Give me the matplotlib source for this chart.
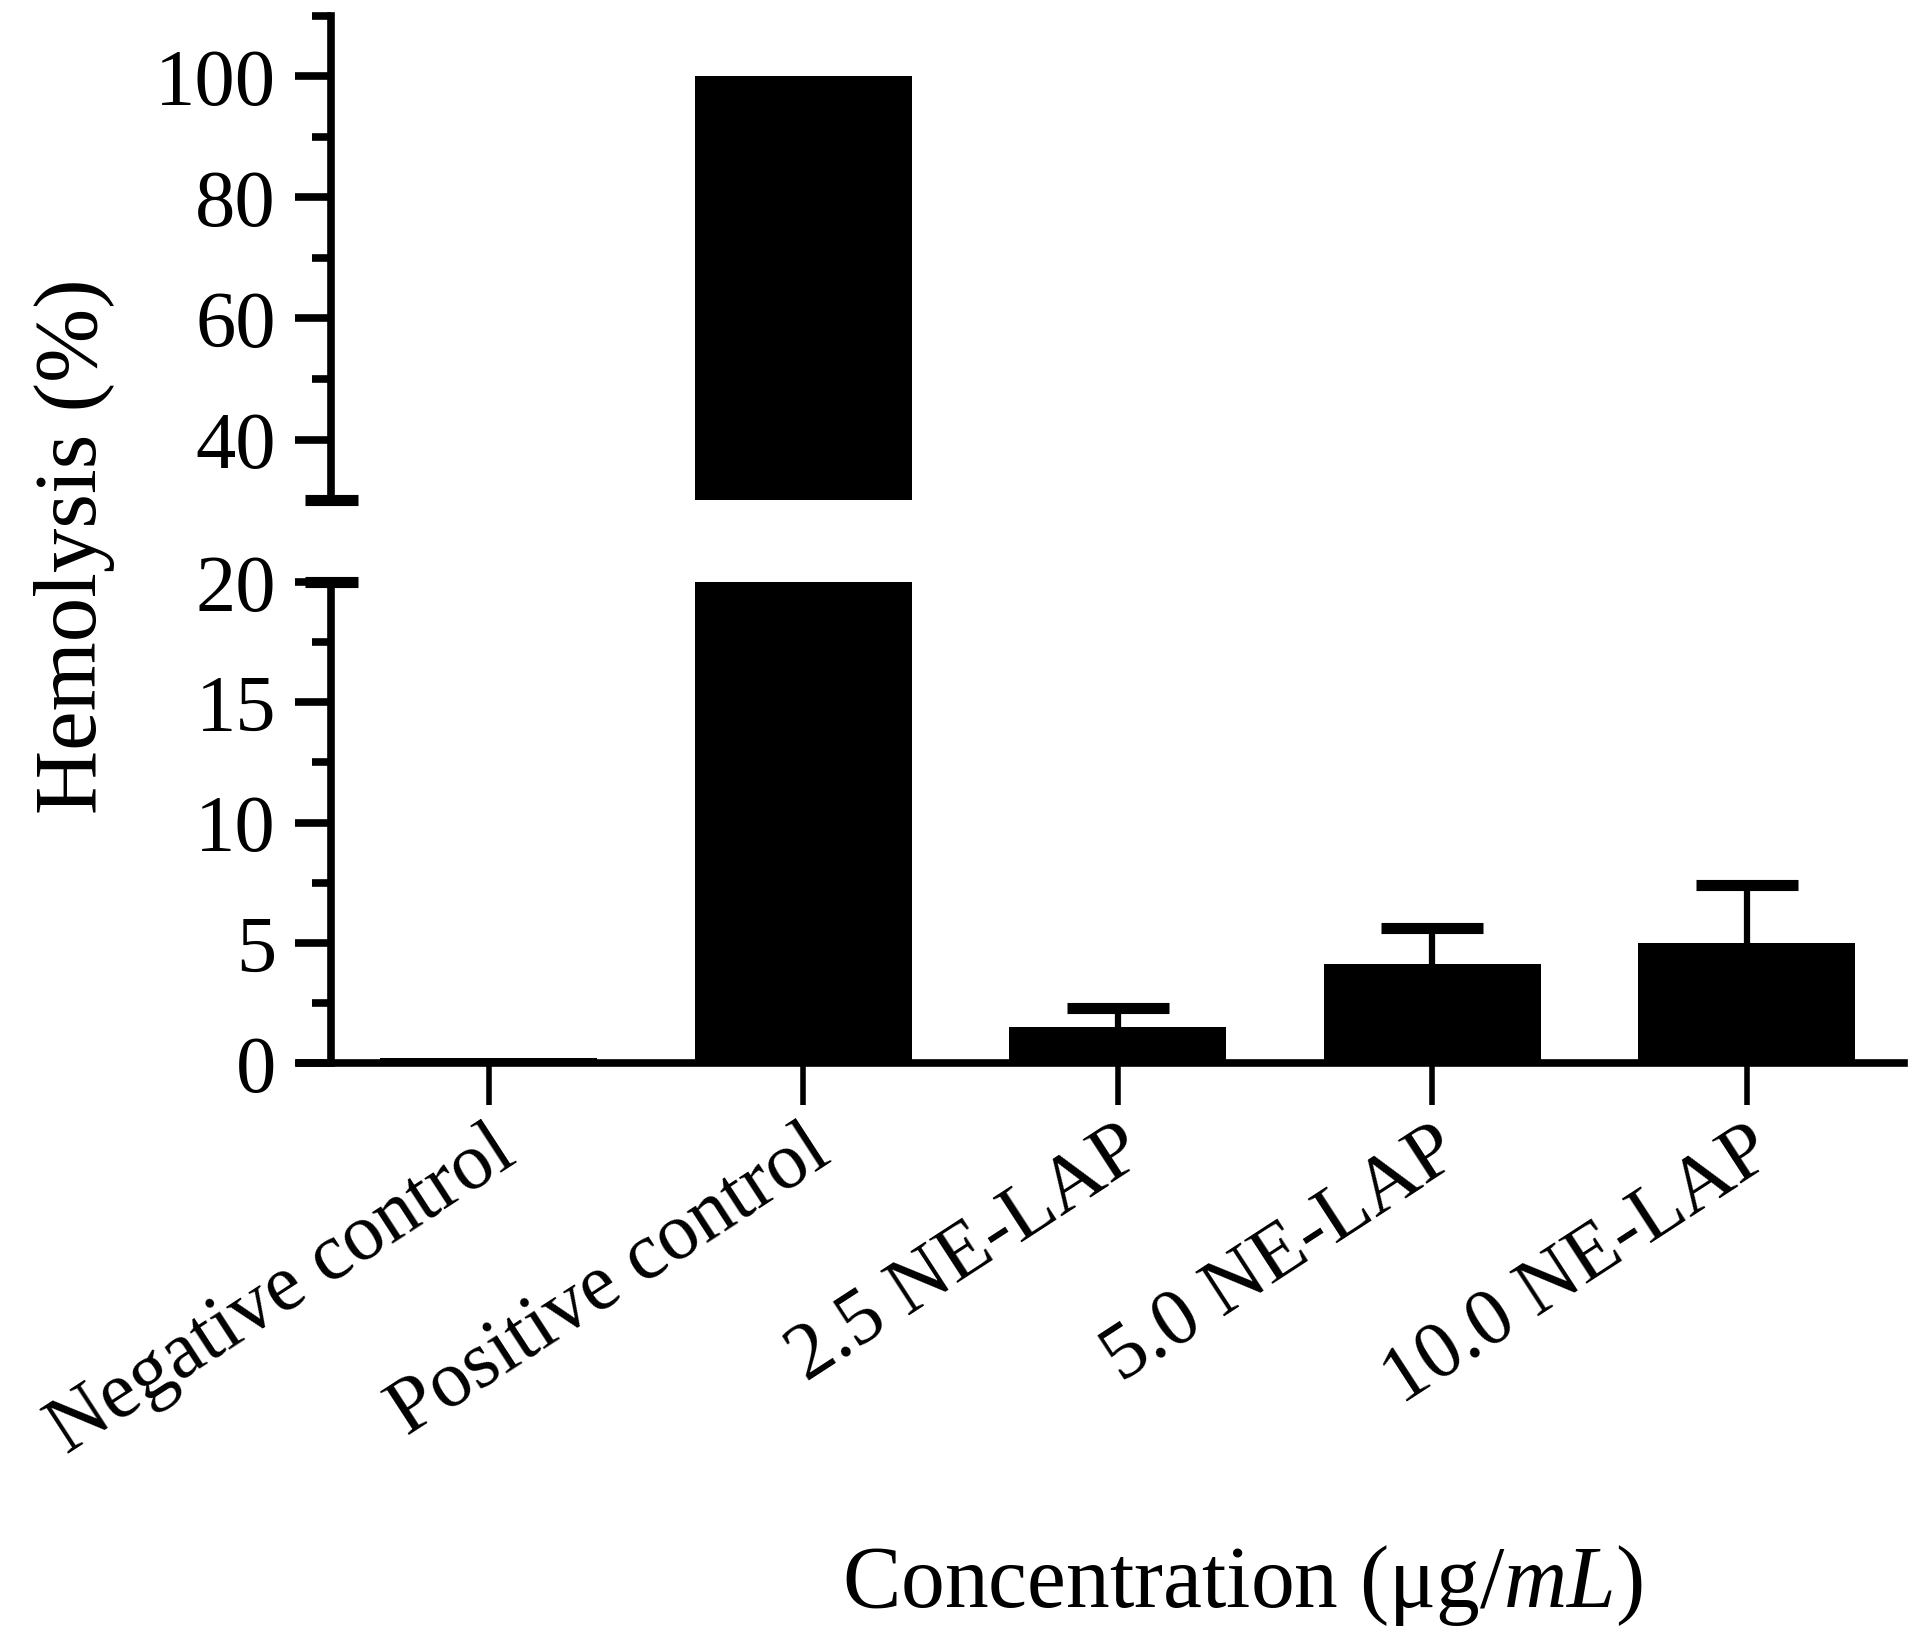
import matplotlib
matplotlib.use("Agg")
import matplotlib.pyplot as plt
import numpy as np

categories = ["Negative control", "Positive control", "2.5 NE-LAP", "5.0 NE-LAP", "10.0 NE-LAP"]
hemolysis = [0.2, 100.0, 1.5, 4.1, 5.0]
sd_upper = [0.0, 0.0, 0.8, 1.5, 2.4]
upper_ticks = [40, 60, 80, 100]
lower_ticks = [0, 5, 10, 15, 20]

plt.rcParams['font.family'] = ['Liberation Serif', 'DejaVu Serif']
plt.rcParams['mathtext.fontset'] = 'custom'
plt.rcParams['mathtext.rm'] = 'Liberation Serif'
plt.rcParams['mathtext.it'] = 'Liberation Serif:italic'

FS = 58
LW = 5.5

fig = plt.figure(figsize=(19.2, 16.4), dpi=100)
L, R = 300/1920, 1904/1920
ax_top = fig.add_axes([L, 1-501/1640, R-L, (501-17)/1640])
ax_bot = fig.add_axes([L, 1-1064/1640, R-L, (1064-583)/1640])

x = np.arange(len(categories))
width = 0.69

for ax in (ax_top, ax_bot):
    ax.bar(x, hemolysis, width=width, color='black', zorder=3)
    ax.set_xlim(-0.6, 4.5)
    ax.spines['left'].set_position(('data', -0.5))
    ax.spines['left'].set_linewidth(LW)
    ax.spines['top'].set_visible(False)
    ax.spines['right'].set_visible(False)
    ax.tick_params(axis='y', which='major', length=26, width=LW, labelsize=FS, pad=14)
    ax.tick_params(axis='y', which='minor', length=14, width=LW)

# error bars (upper only)
err_idx = [i for i, e in enumerate(sd_upper) if e > 0]
xe = x[err_idx]
ye = np.array(hemolysis)[err_idx]
ee = np.array(sd_upper)[err_idx]
eb = ax_bot.errorbar(xe, ye, yerr=[np.zeros_like(ee), ee], fmt='none', ecolor='black',
                     elinewidth=4.5, capsize=37, capthick=8, zorder=2)
eb[1][0].set_visible(False)

# upper axis
ax_top.set_ylim(30, 110)
ax_top.spines['bottom'].set_visible(False)
ax_top.set_xticks([])
ax_top.set_yticks(upper_ticks)
ax_top.set_yticks([50, 70, 90, 110], minor=True)
ax_top.plot([-0.583, -0.417], [30, 30], color='black', lw=8, clip_on=False,
            solid_capstyle='butt', zorder=5)

# lower axis
ax_bot.set_ylim(0, 20)
ax_bot.spines['bottom'].set_linewidth(LW)
ax_bot.set_yticks(lower_ticks)
ax_bot.set_yticks([2.5, 7.5, 12.5, 17.5], minor=True)
ax_bot.plot([-0.583, -0.417], [20, 20], color='black', lw=8, clip_on=False,
            solid_capstyle='butt', zorder=5)
ax_bot.set_xticks(x)
ax_bot.set_xticklabels(categories, rotation=33, ha='right', rotation_mode='anchor', fontsize=FS)
ax_bot.tick_params(axis='x', length=30, width=4, pad=6)

fig.text(0.039, 0.667, "Hemolysis (%)", rotation=90, ha='center', va='center', fontsize=64)
fig.text(0.647, 0.033, r"Concentration (μg/$\mathit{mL}$)", ha='center', va='center', fontsize=63)

fig.savefig("out.png", dpi=100)
